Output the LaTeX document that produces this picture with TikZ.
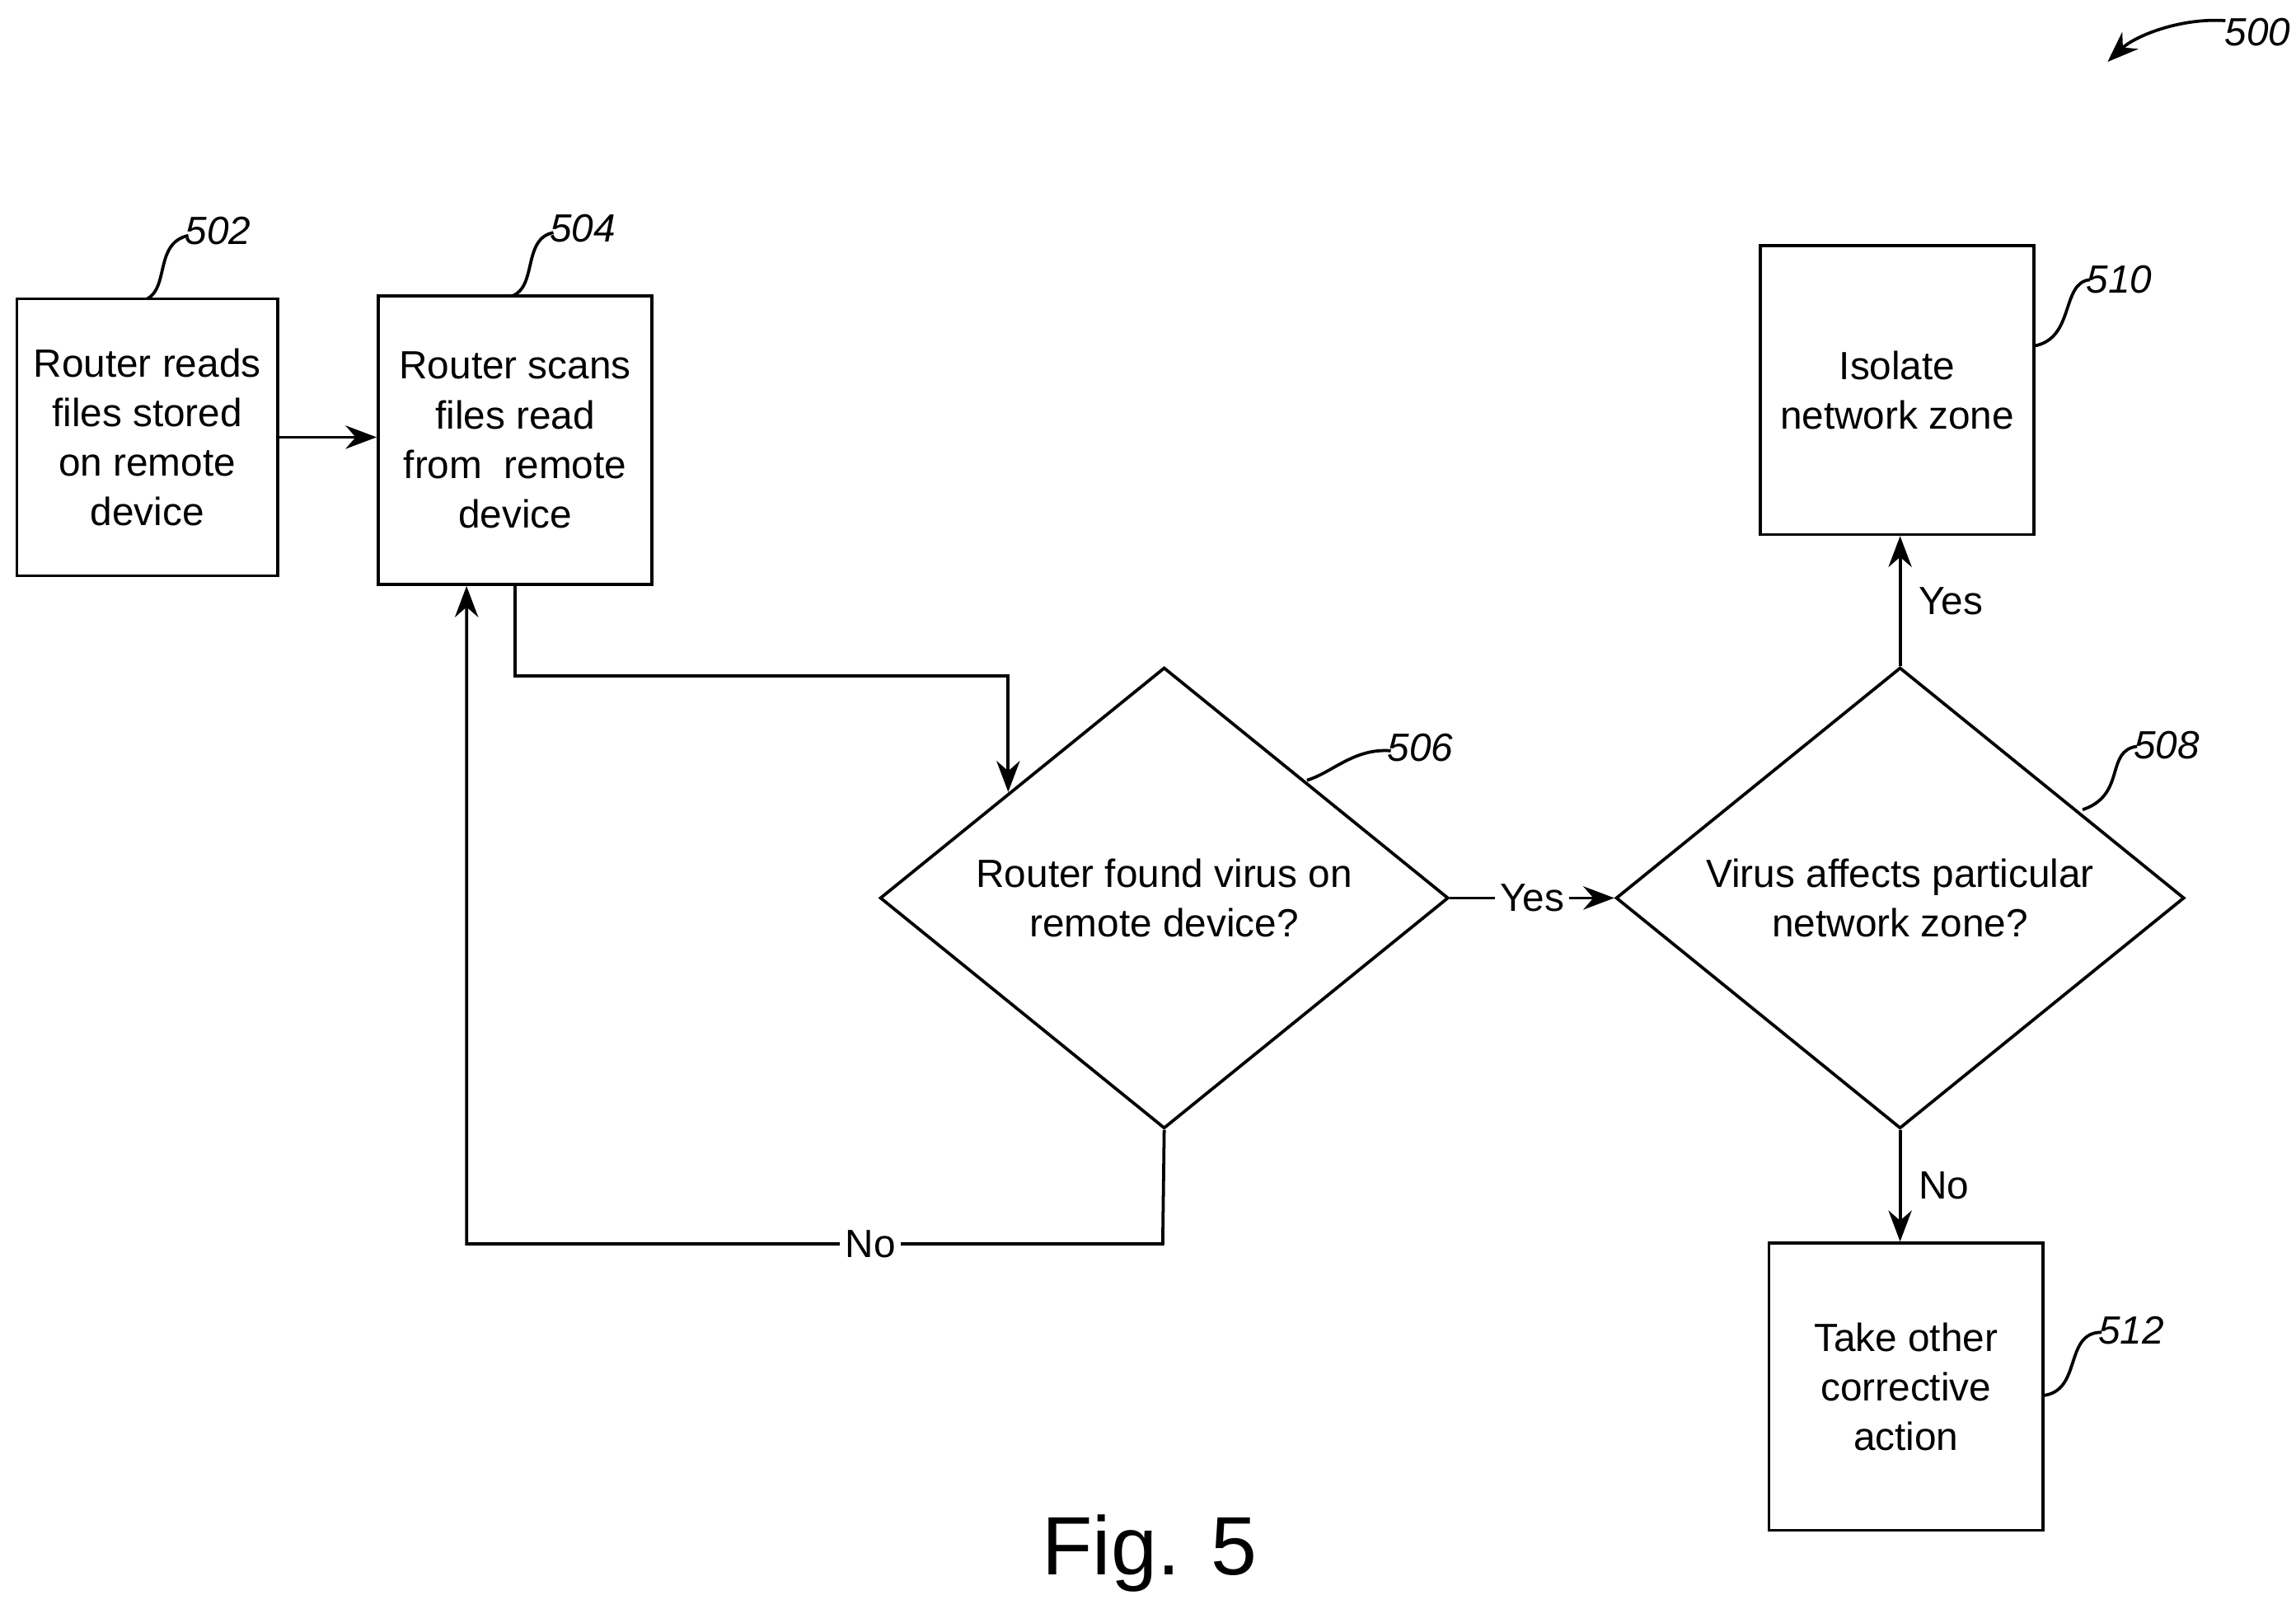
\documentclass[tikz,border=0pt]{standalone}
\usepackage{fontspec}
\setmainfont{Liberation Sans}
\usetikzlibrary{shapes.geometric,arrows.meta}
\begin{document}
\begin{tikzpicture}[x=0.01cm,y=-0.01cm,
    box/.style={draw,semithick,inner sep=0pt,align=center,font=\fontsize{7.6}{9.6}\selectfont},
    dec/.style={draw,semithick,diamond,aspect=1.23,minimum width=3.86cm,minimum height=3.13cm,inner sep=0pt,align=center,font=\fontsize{7.6}{9.6}\selectfont},
    arr/.style={semithick,-{Stealth[length=6pt]}},
    tag/.style={fill=white,inner sep=1pt,font=\fontsize{7.6}{9}\selectfont},
    lbl/.style={font=\fontsize{7.6}{9}\selectfont\itshape},
    lead/.style={semithick}]
\useasboundingbox (0,0) rectangle (1560,1093);
\node[box,minimum width=1.77cm,minimum height=1.88cm] (b502) at (100,297) {Router reads\\files stored\\on remote\\device};
\node[box,minimum width=1.86cm,minimum height=1.96cm] (b504) at (350,299) {Router scans\\files read\\from\ \ remote\\device};
\node[dec] (d506) at (791,610) {Router found virus on\\remote device?};
\node[dec] (d508) at (1291,610) {Virus affects particular\\network zone?};
\node[box,minimum width=1.86cm,minimum height=1.96cm] (b510) at (1289,265) {Isolate\\network zone};
\node[box,minimum width=1.86cm,minimum height=1.95cm] (b512) at (1295,942) {Take other\\corrective\\action};
\coordinate (c504) at (685,459);
\coordinate (c506) at (685,538);
\coordinate (n1) at (790,845);
\coordinate (n2) at (317,845);
% connectors
\draw[arr] (b502.east |- 0,297) -- (b504.west |- 0,297);
\draw[arr] (b504.south) -- (350,459) -- (c504) -- (c506);
\draw[arr] (d506.south) -- (n1) -- node[tag,pos=0.42]{No} (n2) -- (n2 |- b504.south);
\draw[arr] (d506.east) -- node[tag]{Yes} (d508.west);
\draw[arr] (d508.north) -- node[right,font=\fontsize{7.6}{9}\selectfont]{Yes} (b510.south -| d508.north);
\draw[arr] (d508.south) -- node[right,font=\fontsize{7.6}{9}\selectfont]{No} (b512.north -| d508.south);
% reference numerals
\draw[lead] (100,203) .. controls (115,195) and (105,165) .. (128,160);
\node[lbl] (l502) at (148,157) {502};
\draw[lead] (348,201) .. controls (365,195) and (355,162) .. (376,158);
\node[lbl] (l504) at (396,155) {504};
\draw[lead] (888,530) .. controls (905,525) and (920,508) .. (945,510);
\node[lbl] (l506) at (965,508) {506};
\draw[lead] (1415,550) .. controls (1445,540) and (1430,510) .. (1452,507);
\node[lbl] (l508) at (1472,506) {508};
\draw[lead] (1382,235) .. controls (1410,230) and (1400,192) .. (1420,190);
\node[lbl] (l510) at (1440,190) {510};
\draw[lead] (1388,948) .. controls (1415,945) and (1402,905) .. (1428,905);
\node[lbl] (l512) at (1448,904) {512};
\node[lbl] (l500) at (1534,22) {500};
\draw[semithick,-{Stealth[length=6pt]}] (1512,14) .. controls (1480,12) and (1450,25) .. (1432,42);
\node[font=\fontsize{16}{18}\selectfont] (fig) at (781,1055) {Fig. 5};
\end{tikzpicture}
\end{document}
